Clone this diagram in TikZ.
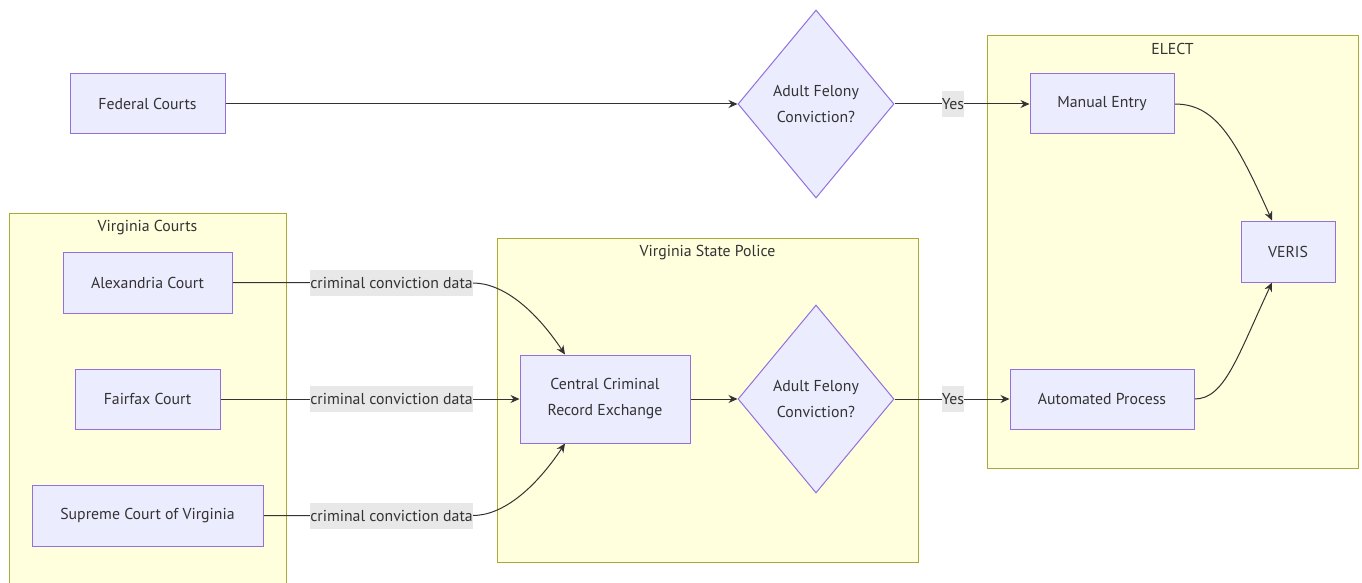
\documentclass[tikz,border=0pt]{standalone}
\usepackage{fontspec}
\setmainfont{PT Sans}
\usetikzlibrary{shapes.geometric,arrows.meta}
\definecolor{nodefill}{HTML}{ECECFF}
\definecolor{nodeline}{HTML}{9370DB}
\definecolor{clfill}{HTML}{FFFFDE}
\definecolor{clline}{HTML}{AAAA33}
\definecolor{edgecol}{HTML}{333333}
\definecolor{lblbg}{HTML}{E8E8E8}
\definecolor{txt}{HTML}{333333}
\newcommand\fsz{\fontsize{15.8}{26}\selectfont}
\pgfdeclarelayer{clusters}
\pgfdeclarelayer{edges}
\pgfsetlayers{clusters,edges,main}
\tikzset{
 box/.style={draw=nodeline, fill=nodefill, line width=1pt, text=txt, font=\fsz, align=center, inner sep=0},
 dec/.style={shape=diamond, aspect=1, draw=nodeline, fill=nodefill, line width=1pt, text=txt, font=\fsz, align=center, inner sep=0, minimum width=156pt, minimum height=188pt},
 cluster/.style={draw=clline, fill=clfill, line width=1pt, anchor=north west, inner sep=0},
 ctitle/.style={text=txt, font=\fsz, inner sep=0},
 elabel/.style={fill=lblbg, text=txt, font=\fsz, inner xsep=0, inner ysep=0, minimum height=26pt},
 conn/.style={draw=edgecol, line width=1pt, -{Stealth[length=9pt,width=8pt]}},
}
\begin{document}
\begin{tikzpicture}[x=1pt,y=-1pt]
\useasboundingbox (0,0) rectangle (1362,583);
% clusters
\begin{pgfonlayer}{clusters}
\clip (0,0) rectangle (1362,583);
\fill[white] (0,0) rectangle (1362,583);
\node[cluster, minimum width=277pt, minimum height=380pt] (vc) at (9,213) {};
\node[cluster, minimum width=421pt, minimum height=324pt] (vsp) at (497,238) {};
\node[cluster, minimum width=371pt, minimum height=433pt] (el) at (987,35) {};
\end{pgfonlayer}
\node[ctitle] (vct) at (147.5,228) {Virginia Courts};
\node[ctitle] (vspt) at (707.5,252.5) {Virginia State Police};
\node[ctitle] (elt) at (1172.5,49) {ELECT};
% nodes
\node[box, minimum width=155pt, minimum height=60pt] (fed) at (147.5,104) {Federal Courts};
\node[dec] (d1) at (816,104) {Adult Felony\\Conviction?};
\node[box, minimum width=144pt, minimum height=60pt] (man) at (1102,104) {Manual Entry};
\node[box, minimum width=94pt, minimum height=61pt] (veris) at (1288,251.5) {VERIS};
\node[box, minimum width=184pt, minimum height=60pt] (auto) at (1102,399) {Automated Process};
\node[box, minimum width=169pt, minimum height=61pt] (alex) at (147.5,282.5) {Alexandria Court};
\node[box, minimum width=145pt, minimum height=60pt] (fair) at (147.5,399) {Fairfax Court};
\node[box, minimum width=231pt, minimum height=61pt] (sup) at (147.5,515.5) {Supreme Court of Virginia};
\node[box, minimum width=170pt, minimum height=88pt] (ccre) at (605,399) {Central Criminal\\Record Exchange};
\node[dec] (d2) at (816,399) {Adult Felony\\Conviction?};
% edge labels
\node[elabel] (l1) at (391.5,283) {criminal conviction data};
\node[elabel] (l2) at (391.5,399) {criminal conviction data};
\node[elabel] (l3) at (391.5,515.5) {criminal conviction data};
\node[elabel] (y1) at (953,104) {Yes};
\node[elabel] (y2) at (953,399) {Yes};
% edges
\begin{pgfonlayer}{edges}
\draw[conn] (fed.east) -- (d1.west);
\draw[conn] (d1.east) -- (man.west);
\draw[conn] (d2.east) -- (auto.west);
\draw[conn] (fair.east) -- (ccre.west);
\draw[conn] (ccre.east) -- (d2.west);
\draw[conn] (alex.east) -- (l1.east) .. controls +(30,0) and +(-30,-45) .. ([xshift=-40pt]ccre.north);
\draw[conn] (sup.east) -- (l3.east) .. controls +(30,0) and +(-30,45) .. ([xshift=-40pt]ccre.south);
\draw[conn] (man.east) .. controls +(40,0) and +(-38,-85) .. ([xshift=-16pt]veris.north);
\draw[conn] (auto.east) .. controls +(30,0) and +(-35,75) .. ([xshift=-16pt]veris.south);
\end{pgfonlayer}
\end{tikzpicture}
\end{document}
